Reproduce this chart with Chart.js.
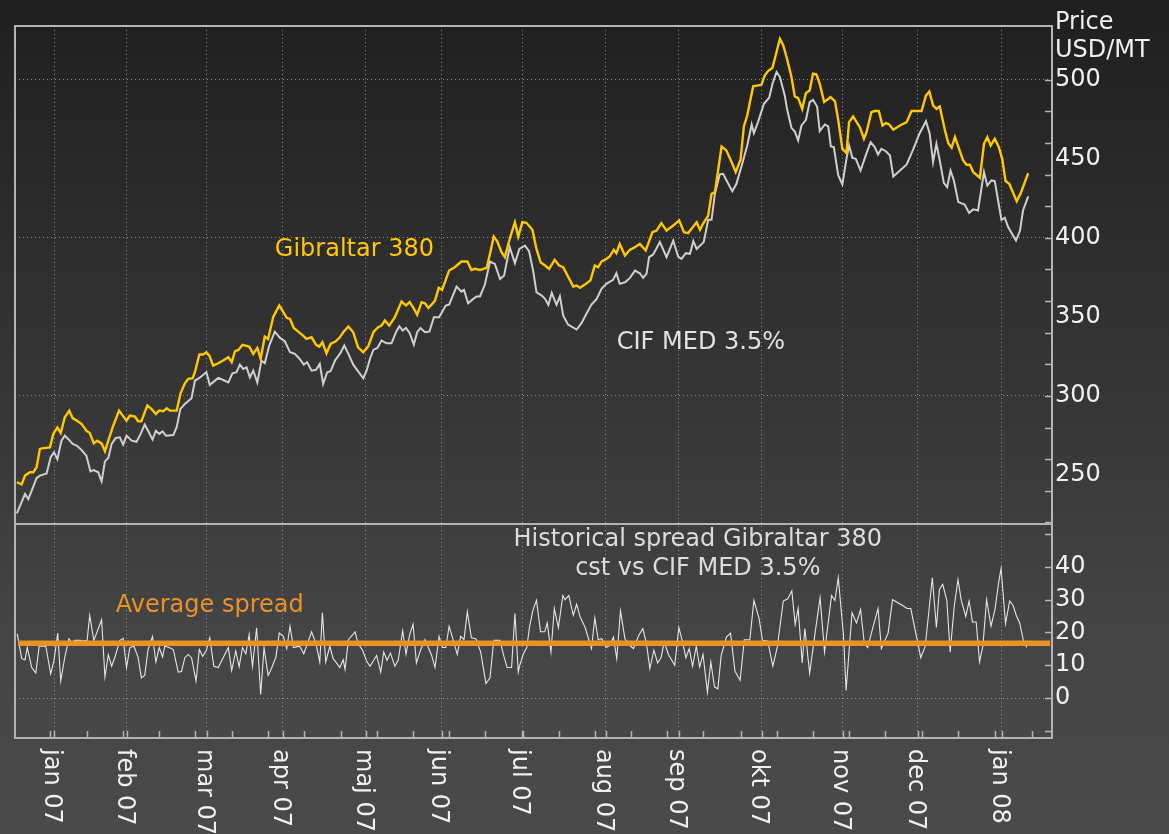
<!DOCTYPE html>
<html>
<head>
<meta charset="utf-8">
<script src="https://cdn.jsdelivr.net/npm/chart.js@4.4.1/dist/chart.umd.min.js"></script>
<style>
  html, body { margin: 0; padding: 0; background: #2e2e2e; }
  canvas { display: block; }
</style>
</head>
<body>
<canvas id="c" width="1169" height="834"></canvas>
<script>
// ---------- DATA (x = trading-day index from start of series) ----------
const monthTicks  = [10, 29.6, 51.1, 71.6, 93.9, 114.3, 136.1, 158.5, 178.1, 200.4, 222.2, 242.4, 265];
const monthLabels = ['jan 07','feb 07','mar 07','apr 07','maj 07','jun 07','jul 07','aug 07','sep 07','okt 07','nov 07','dec 07','jan 08'];
const weekTicks   = [8.9,18.8,28.5,38.2,47.9,57.8,67.5,77.2,87.2,96.9,106.5,116.2,125.9,135.9,145.8,155.5,165.2,174.9,184.6,194.8,204.5,214.2,223.8,233.5,243.5,253.2,263.1,273.0];

const priceLabels  = [250, 300, 350, 400, 450, 500];
const spreadLabels = [0, 10, 20, 30, 40];

const gibDays = [0,1.3,2.2,3.5,4.4,5.3,6.2,7.1,8.9,9.8,10.9,11.8,12.9,14.1,15.0,16.1,17.4,18.7,19.6,20.7,21.6,22.8,23.7,24.6,25.9,27.5,29.5,30.4,31.8,32.6,33.5,35.1,36.2,37.4,38.3,39.4,40.3,41.2,43.0,44.0,45.2,46.1,47.3,47.9,49.1,50.1,51.0,51.8,52.8,54.2,55.5,56.9,57.8,58.7,59.6,60.7,62.5,63.6,64.7,65.6,66.7,67.6,69.0,70.6,71.7,72.6,73.5,74.5,75.7,77.0,77.9,79.3,80.5,81.4,82.2,83.3,84.4,85.8,86.9,87.8,89.2,90.5,91.8,93.2,94.5,
  96.0,97.2,98.1,99.0,100.2,101.7,103.5,104.7,105.7,106.6,107.7,108.9,109.8,110.7,111.6,112.5,113.5,114.4,116.3,117.8,119.6,121.2,122.3,123.2,124.6,126.4,127.3,128.3,129.2,130.4,131.3,132.6,134.0,134.9,136.0,137.1,138.7,139.8,140.9,142.1,143.2,144.7,145.9,147.0,148.3,149.7,150.6,151.5,153.3,154.3,155.5,156.4,157.3,158.6,159.5,160.6,161.3,162.2,163.6,164.9,166.3,167.6,169.2,171.0,172.1,173.4,174.8,176.6,178.2,179.5,180.6,182.9,183.8,
  184.6,186.0,186.9,187.8,189.6,190.9,192.3,193.4,194.7,195.6,196.5,198.1,200.3,201.2,202.1,203.3,205.3,206.2,207.2,208.4,209.3,210.2,211.3,212.3,213.3,214.2,215.1,216.0,217.2,218.0,218.9,220.1,221.0,222.1,223.2,223.9,225.0,226.1,226.8,227.9,228.6,229.9,230.8,231.9,232.9,233.8,234.7,235.8,237.6,239.4,240.7,241.9,243.4,244.6,245.5,246.5,247.4,248.3,249.7,250.6,251.5,252.4,253.5,254.6,255.5,256.4,257.3,259.1,260.2,261.1,262.0,263.1,264.2,265.1,266.0,267.0,269.0,270.0,272.1];
const gibPrices = [245.4,244,249.6,251.7,251.7,254.9,266.5,267,267.5,276,280,276.6,286.5,290.7,286,284.4,282.3,278,276.6,270,271.7,270,265,271.7,281,290.7,284.4,287.6,287,284,284,294,291.8,288.6,290.7,290.3,292.2,290.7,290.7,301.3,308,310.8,311.2,315,326.2,326.2,327.6,325.5,319.2,320.7,322.4,324.5,321.3,328.3,329.1,332.3,331.2,326.6,330.4,323.4,337.6,336.1,350.2,357.2,353,349.4,348.7,343,340.7,338.2,336.1,337.1,332.3,331.2,334,327,332.9,334.6,337.1,340.3,343.9,340.3,330.8,327.6,331.2,
  340.7,343.5,344.5,347.7,344.5,349.8,359.7,357.2,359.3,356.1,351.3,359.3,358.6,355.7,357.8,360.3,368.4,367.1,379.3,381.4,385,385,379.7,380.4,379.7,381,389.9,400.8,397.9,390.9,387.8,399.4,409.9,400.8,409.9,409.5,405.1,393,384.6,382.5,380.4,386.1,382.5,381.4,375.5,369.2,369.8,368.4,371.3,373,382.5,381.4,385,386.7,388.2,392.4,390.3,396.2,388.8,392.4,394.1,396.2,392,403.6,404.6,409.3,404.6,407.8,411,403.6,403,409.9,405.1,
  408.9,414.1,427.8,428.9,457.8,455.3,447.9,441.6,449.4,470.5,477.4,495.8,496.8,502.7,505.5,507.6,525.9,521.7,513.3,501.7,489.5,488.4,481.6,491.6,493.2,503.8,503.4,497.5,485.9,487.3,489,486.5,474.3,456.3,453.6,473.2,476.8,472.6,470,462.7,466.9,479.5,480.2,480.2,471.1,472.6,471.7,468.4,471.1,473.2,480.2,480.2,480.2,490.1,492.6,483.8,481.6,483.1,467.9,459.9,457,463.7,456.3,448.9,446.2,446.2,441.6,438,459.5,463.7,458.4,462.7,457.4,450,435.9,434.2,423.2,427.8,440.9];

const cifDays = [0,2.2,3.1,5.3,6.2,8.0,9.1,10.0,10.9,12.0,12.9,13.8,15.0,16.1,17.4,18.7,19.8,20.7,21.9,22.8,23.7,24.6,25.5,26.6,27.7,28.6,29.5,30.9,32.2,33.3,34.4,35.3,36.5,37.4,38.3,39.2,40.1,42.1,43.0,44.0,45.2,47.0,47.9,49.1,51.0,51.9,54.2,55.5,56.9,58.0,59.1,60.0,60.9,61.8,62.7,63.6,64.7,65.8,66.7,67.9,69.4,70.8,72.1,73.5,74.8,76.1,77.2,78.1,79.3,80.5,81.5,82.4,83.5,84.4,85.6,86.9,88.1,89.2,90.5,
  93.2,94.1,95.0,95.9,97.0,98.1,99.5,100.8,102.0,102.9,103.8,104.7,105.7,106.8,107.7,108.6,109.8,111.0,112.2,113.6,115.4,116.3,118.3,119.6,120.3,121.4,122.8,123.7,124.6,125.9,127.3,128.6,130.0,131.1,132.6,134.0,135.2,136.7,137.8,138.9,139.8,141.2,142.1,143.0,143.9,145.2,146.1,147.0,148.3,150.6,151.9,153.3,154.6,156.0,157.3,158.6,160.4,161.3,162.2,163.6,164.9,166.3,167.6,168.5,169.4,170.1,171.2,173.0,174.8,176.6,177.9,178.8,180.0,181.1,182.0,182.9,
  184.8,186.0,186.9,187.8,189.1,190.0,191.4,192.5,193.6,195.4,196.5,197.7,198.3,199.4,201.0,202.4,203.3,204.4,205.3,206.6,207.2,208.4,209.3,210.2,211.1,212.3,213.3,214.2,215.3,216.0,217.4,218.3,219.0,219.8,221.0,222.1,223.2,223.9,224.8,225.7,227.0,228.6,229.7,230.8,231.7,232.6,233.8,234.9,235.8,237.6,239.4,241.1,242.9,244.6,245.6,246.5,247.4,248.3,249.4,250.3,251.2,252.1,253.3,255.0,256.2,257.3,258.6,260.2,261.1,262.2,263.1,264.0,264.9,265.8,266.7,268.8,269.9,270.7,272.1];
const cifPrices = [225.7,238,234.8,248,249.6,251,261.2,264.4,260,271.7,274.9,272.8,269.6,268.6,265.8,262.2,252.3,253.1,251.7,246,258.6,260.8,269.6,273.4,273.8,269.2,274.9,271.7,271,276,281.9,278,272.4,278,276,277.6,274.9,275.3,280.2,291.8,294.9,298.5,309.7,311.4,315,307,311.4,310.1,308.6,314.3,315,319.8,317.1,318.1,311.8,316,308.6,322.4,320.7,331.9,340.7,336.7,334.6,327.6,326.6,323.4,319.8,321.3,316,316.5,320.3,307.6,315,315.6,322.4,326.6,331.9,326.6,319.8,
  311.2,316,323.4,329.1,330.4,335,333.3,333.3,340.3,344.1,341.4,343,339.7,332.5,340.3,343,340.3,340.7,349.8,349.8,357.2,357.8,369.2,366,367.1,358.6,361.4,362.9,362.9,370.3,385,383.5,374,376.2,394.1,384,393,395.1,391.6,379.3,365.6,363.5,361.4,357.6,365.2,357.6,363.1,350.8,345.1,342,346,352.3,357.8,361.4,367.7,370.9,373.4,377.6,370.9,371.9,374.5,379.3,377.6,374.7,377.2,387.8,389.5,397.3,387.8,398.3,388.2,386.7,390.3,389.9,397.9,393,
  397.3,411.4,411.4,427.8,440.1,440.5,434.2,429.5,434.2,448.9,458.4,471.7,466.2,473.2,484.8,488.6,497.5,504.9,501.7,490.1,481.6,469.6,467.3,461.6,471.1,474.7,485.9,487.3,483.1,467.5,471.7,470.5,457.8,457.4,439.5,433.8,450,458.4,450.6,450,442.6,453.6,460.5,457.4,452.7,456.3,454.8,452.1,438.8,442.6,446.4,455.7,466.2,473.8,465.8,447.9,459.5,448.9,434.8,432.1,442.6,436.3,422.6,421.1,415.8,418,417.3,441.6,433.1,436.3,435.9,423.6,411.4,412.7,406.8,398.3,404.6,417.3,426.2];

const spreadDays = [0.1,1.3,2.2,2.8,4.0,5.1,6.0,7.8,9.1,10.0,11.0,11.8,12.9,14.0,14.7,15.8,17.0,17.9,18.9,19.6,20.7,21.6,22.8,23.7,24.6,25.5,26.4,27.7,28.6,29.5,30.4,31.5,32.6,33.5,34.4,35.3,36.5,37.4,38.3,39.2,39.8,41.0,42.1,43.4,44.3,45.2,46.1,47.0,48.2,49.1,50.0,51.0,51.9,53.0,54.2,55.5,56.9,57.8,58.9,59.8,60.7,61.6,62.5,63.4,64.5,65.6,66.5,67.6,68.5,69.7,70.6,71.7,72.6,73.5,74.4,76.1,77.2,78.1,79.3,80.5,81.5,82.2,83.1,84.2,85.1,86.0,86.9,87.8,88.3,89.2,91.0,91.8,93.0,94.1,95.0,95.9,96.8,97.9,98.7,99.6,100.5,101.7,102.6,103.8,104.7,105.7,106.6,107.5,108.6,109.8,110.7,111.6,112.5,113.6,114.5,115.4,116.3,117.2,118.5,119.4,120.3,121.2,122.3,123.5,124.8,126.2,127.3,128.3,130.0,130.9,131.9,133.1,134.0,134.9,
  135.3,136.3,137.2,137.9,138.8,139.8,140.9,142.0,142.7,143.7,144.6,145.7,146.9,147.5,148.5,149.7,150.6,151.5,152.9,154.6,155.5,156.4,157.4,158.5,159.6,160.5,161.4,162.4,163.6,164.8,165.9,167.3,168.4,169.4,170.3,171.4,172.4,173.3,174.2,175.3,177.0,178.1,179.0,180.0,180.9,181.8,182.8,183.7,184.6,185.8,186.7,187.7,188.6,189.5,190.9,192.0,193.2,194.6,195.7,197.2,198.3,199.7,200.6,202.0,203.4,204.6,206.2,207.4,208.5,209.4,210.2,211.3,212.0,213.3,214.8,216.1,217.3,219.2,220.1,221.0,222.4,223.1,224.7,225.9,227.0,228.0,228.9,230.3,231.7,232.6,234.4,235.6,238.2,239.5,240.5,243.2,244.4,246.3,247.4,248.2,249.1,250.2,251.1,252.2,253.2,254.1,255.3,256.2,257.1,258.1,259.0,259.9,260.9,262.1,263.2,264.1,264.8,266.0,267.1,268.0,268.9,269.8,270.8,271.7];
const spreadValues = [19.6,12,11.7,15.4,9.3,7.6,15.8,15.8,7.4,11.5,19.8,5.2,12.5,18.1,17.1,17.6,17.6,17.4,17.6,25.2,17.6,20.2,23.9,6.4,13.2,9.7,12.5,17.6,18.2,9.3,15.4,15.8,12.5,6.2,6.9,14.8,18.8,11,15.4,12.5,15.8,15.4,14.8,7.9,8.1,12.3,13.3,12.3,5.2,14.8,12.7,14.6,18.4,9.7,9.3,12.3,15.4,8.4,14.4,9.5,15.4,13.5,19.4,9.7,21.4,1.1,15.4,6.9,9,12.5,19.8,18.8,15.1,21.9,15.4,15.8,13.5,16.4,20.2,16.4,11,26,11,15.8,12,10.7,9.3,11.7,8.7,17.8,20.2,16.6,14.6,11.3,9.7,11.3,13,7.9,14,11.5,13.7,9.7,11.5,20.5,13.3,19.4,22.5,10.7,14.6,17.8,15.4,13,9.3,18.8,15.4,15.4,21.9,18.4,13.3,18.8,17.8,26.3,18.4,18.1,14,4.4,6.2,17.6,17.6,13.3,9.3,9.3,25.8,7.9,
  10,13.5,15.4,21.5,26.6,29.8,20.2,20.2,22.9,14,27.3,21.5,31.3,30,31.3,25.2,28.6,24.9,21.5,15.1,24.5,17.8,18.1,15.4,16.1,18.6,12,26.6,18.1,16.1,15.1,19.1,21.2,16.6,9,14.6,10.7,12.3,17.1,13.3,10,21.5,17.6,12.3,15.1,9.7,15.8,9.5,13.3,1.8,11,3.4,2.8,13,18.6,19.8,8.2,5.4,17.8,17.8,29.8,24.2,17.6,17.4,9.7,15.6,29.6,30.3,32.7,22.5,27.3,10.7,21.2,7.6,20.2,30.6,14,31.3,29.8,36.7,19.1,2.3,26,22.9,27,16.6,15.4,21.5,27.3,15.1,19.8,30,28.3,27.3,27.3,12.3,15.8,36.7,21.5,33.1,34.7,29.8,14,28,36.1,29.8,24.9,29.6,23.2,23.2,11,15.8,30,21.9,27.3,34.9,39.5,22.7,29.6,28.3,25.2,22.9,17.6,15.4];

const avgSpread = 16.7;
const avgDays = [0.3, 278];

// ---------- STYLE ----------
const FONT = '"DejaVu Sans", Verdana, sans-serif';
const COL_GIB = '#ffc800';
const COL_CIF = '#cfcfcf';
const COL_SPREAD = '#e6e6e6';
const COL_AVG = '#e8922a';
const COL_TEXT = '#f0f0f0';
const COL_FRAME = '#b4b4b4';
const COL_GRID = 'rgba(175,175,175,0.75)';

const toXY = (xs, ys) => xs.map((x, i) => ({ x: x, y: ys[i] }));

const annotations = [
  { text: 'Gibraltar 380', axis: 'y', x: 69.4, y: 388.7, color: COL_GIB, align: 'left' },
  { text: 'CIF MED 3.5%', axis: 'y', x: 161.4, y: 329.7, color: '#e2e2e2', align: 'left' },
  { text: 'Historical spread Gibraltar 380', axis: 'y2', x: 183.2, y: 46.4, color: '#dcdcdc', align: 'center' },
  { text: 'cst vs CIF MED 3.5%', axis: 'y2', x: 183.2, y: 37.5, color: '#dcdcdc', align: 'center' },
  { text: 'Average spread', axis: 'y2', x: 26.6, y: 26.2, color: COL_AVG, align: 'left' }
];

const decor = {
  id: 'decor',
  beforeDraw(chart) {
    const { ctx, width, height } = chart;
    const g = ctx.createLinearGradient(0, 0, 0, height);
    g.addColorStop(0, '#1f1f1f');
    g.addColorStop(0.6, '#3c3c3c');
    g.addColorStop(0.75, '#444444');
    g.addColorStop(1, '#4a4a4a');
    ctx.save();
    ctx.fillStyle = g;
    ctx.fillRect(0, 0, width, height);
    ctx.restore();
  },
  afterDraw(chart) {
    const { ctx, chartArea: a, scales } = chart;
    const xs = scales.x, ys = scales.y, ys2 = scales.y2;
    ctx.save();
    // inner tick marks
    ctx.strokeStyle = COL_FRAME;
    ctx.lineWidth = 1.5;
    ctx.beginPath();
    for (let v = 220; v <= 500; v += 20) {
      const py = Math.round(ys.getPixelForValue(v)) + 0.5;
      ctx.moveTo(a.right - 7, py); ctx.lineTo(a.right, py);
    }
    for (let v = -10; v <= 50; v += 10) {
      const py = Math.round(ys2.getPixelForValue(v)) + 0.5;
      ctx.moveTo(a.right - 7, py); ctx.lineTo(a.right, py);
    }
    monthTicks.concat(weekTicks).forEach(d => {
      const px = Math.round(xs.getPixelForValue(d)) + 0.5;
      ctx.moveTo(px, a.bottom); ctx.lineTo(px, a.bottom - 7);
    });
    ctx.stroke();
    // frame and panel separator
    ctx.lineWidth = 2;
    ctx.strokeStyle = COL_FRAME;
    ctx.strokeRect(a.left, a.top, a.right - a.left, a.bottom - a.top);
    ctx.beginPath();
    ctx.moveTo(a.left, ys.bottom); ctx.lineTo(a.right, ys.bottom);
    ctx.stroke();
    // rotated month labels
    ctx.font = '24px ' + FONT;
    ctx.fillStyle = COL_TEXT;
    ctx.textAlign = 'left';
    ctx.textBaseline = 'middle';
    monthTicks.forEach((d, i) => {
      const px = xs.getPixelForValue(d);
      ctx.save();
      ctx.translate(px - 3, a.bottom + 11);
      ctx.rotate(Math.PI / 2);
      ctx.fillText(monthLabels[i], 0, 0);
      ctx.restore();
    });
    // axis title
    ctx.textBaseline = 'alphabetic';
    ctx.fillText('Price', a.right + 3, 29);
    ctx.fillText('USD/MT', a.right + 3, 57);
    // annotations
    annotations.forEach(t => {
      ctx.fillStyle = t.color;
      ctx.textAlign = t.align;
      ctx.fillText(t.text, xs.getPixelForValue(t.x), scales[t.axis].getPixelForValue(t.y));
    });
    ctx.restore();
  }
};

new Chart(document.getElementById('c'), {
  type: 'line',
  data: {
    datasets: [
      { label: 'Average spread', data: toXY(avgDays, avgDays.map(() => avgSpread)), yAxisID: 'y2', borderColor: COL_AVG, borderWidth: 5.5, pointRadius: 0, order: 0 },
      { label: 'Gibraltar 380', data: toXY(gibDays, gibPrices), yAxisID: 'y', borderColor: COL_GIB, borderWidth: 2.4, pointRadius: 0, order: 1 },
      { label: 'CIF MED 3.5%', data: toXY(cifDays, cifPrices), yAxisID: 'y', borderColor: COL_CIF, borderWidth: 2, pointRadius: 0, order: 2 },
      { label: 'Spread', data: toXY(spreadDays, spreadValues), yAxisID: 'y2', borderColor: COL_SPREAD, borderWidth: 1.1, pointRadius: 0, order: 3 }
    ]
  },
  options: {
    responsive: false,
    animation: false,
    layout: { padding: { left: 15, top: 26, right: 0, bottom: 0 } },
    plugins: { legend: { display: false }, tooltip: { enabled: false } },
    elements: { line: { tension: 0 } },
    scales: {
      x: {
        type: 'linear', min: -0.5, max: 278.5,
        afterBuildTicks: s => { s.ticks = monthTicks.map(v => ({ value: v })); },
        afterFit: s => { s.height = 96; },
        ticks: { display: false },
        grid: { color: COL_GRID, lineWidth: 1, drawTicks: false },
        border: { display: false, dash: [1, 3] }
      },
      y: {
        type: 'linear', position: 'right', stack: 'panels', stackWeight: 498,
        min: 219, max: 534,
        afterBuildTicks: s => { s.ticks = priceLabels.map(v => ({ value: v })); },
        afterFit: s => { s.width = 117; },
        ticks: { color: COL_TEXT, font: { family: FONT, size: 24 }, padding: 3, autoSkip: false },
        grid: { drawTicks: false, lineWidth: 1, color: c => (c.tick && [300, 400, 500].includes(c.tick.value)) ? COL_GRID : 'rgba(0,0,0,0)' },
        border: { display: false, dash: [1, 3] }
      },
      y2: {
        type: 'linear', position: 'right', stack: 'panels', stackWeight: 214,
        min: -12.2, max: 53.1,
        afterBuildTicks: s => { s.ticks = spreadLabels.map(v => ({ value: v })); },
        afterFit: s => { s.width = 117; },
        ticks: { color: COL_TEXT, font: { family: FONT, size: 24 }, padding: 3, autoSkip: false },
        grid: { drawTicks: false, lineWidth: 1, color: c => (c.tick && c.tick.value === 0) ? COL_GRID : 'rgba(0,0,0,0)' },
        border: { display: false, dash: [1, 3] }
      }
    }
  },
  plugins: [decor]
});
</script>
</body>
</html>
